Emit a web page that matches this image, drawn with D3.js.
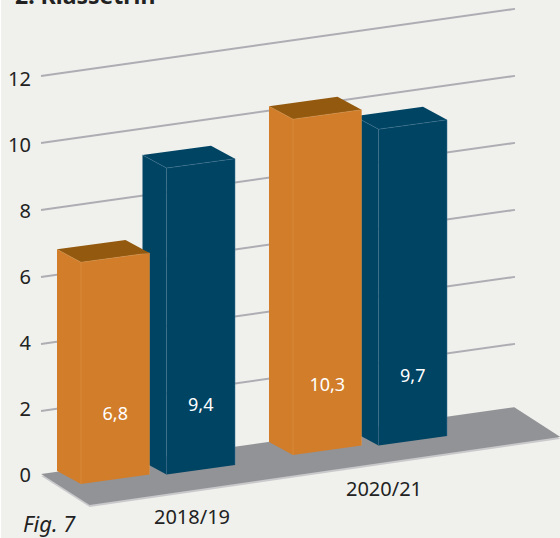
<!DOCTYPE html>
<html>
<head>
<meta charset="utf-8">
<script src="https://cdn.jsdelivr.net/npm/d3@7"></script>
<style>
  html, body { margin: 0; padding: 0; background: #fff; }
  svg { display: block; }
  text { font-family: "Noto Sans", sans-serif; fill: #222; }
</style>
</head>
<body>
<script>
const title = '2. Klassetrin';
const figureLabel = 'Fig. 7';
const categories = ['2018/19', '2020/21'];
const seriesNames = ['orange', 'blue'];
const orangeValues = [6.8, 10.3];
const blueValues = [9.4, 9.7];
const gridTicks = [2, 4, 6, 8, 10, 12];
const axisTicks = [0, 2, 4, 6, 8, 10, 12];

const width = 560, height = 538;

const svg = d3.select('body').append('svg')
  .attr('width', width)
  .attr('height', height);

svg.append('rect').attr('x', 1).attr('width', width).attr('height', height).attr('fill', '#f0f1ed');

const colors = {
  orange: { face: '#d27d2a', top: '#93590f', edge: '#dd9448' },
  blue: { face: '#004464', top: '#004464', edge: '#3f7390' }
};

// scales for the bars: groups along the floor, height in bar units
const xGroup = d3.scaleBand().domain(categories).range([81, 447]).paddingInner(58 / 212);
const xBar = d3.scaleBand().domain(seriesNames).range([0, xGroup.bandwidth()]).paddingInner(17 / 85.5);
const yBar = d3.scaleLinear().domain([0, 1]).range([0, 32.6]);

// the wall is further back but drawn with a bigger unit, as in the original
const yWall = d3.scaleLinear().domain([0, 12]).range([478, 76]);
const yAxisLabels = d3.scaleLinear().domain([0, 12]).range([474, 78]);
const xCategory = d3.scalePoint().domain(categories).range([192, 384]);

const slope = -0.137;
const depthX = 24, depthY = 13;

// fake 3d: x along the floor, depth towards the wall, value upwards
function project(x, depth, value) {
  return [
    x - depthX * depth,
    484 + slope * (x - 81) - depthY * depth - yBar(value)
  ];
}

// floor plate, with a light edge under it
const floorCorners = [[64, 0.95], [57, -1.36], [533, -1.14], [540, 1.07]];
const floorPath = d3.line()(floorCorners.map(c => project(c[0], c[1], 0))) + 'Z';
svg.append('path').attr('d', floorPath).attr('fill', '#c9c9cc').attr('transform', 'translate(0,2)');

// grid lines
const wallLine = d3.line();
const wallSlope = -0.1416;
svg.append('g').selectAll('path')
  .data(gridTicks)
  .join('path')
  .attr('d', d => wallLine([[41, yWall(d)], [515, yWall(d) + wallSlope * 474]]))
  .attr('stroke', '#aeadb3')
  .attr('stroke-width', 2)
  .attr('fill', 'none');

svg.append('path').attr('d', floorPath).attr('fill', '#929396');

// bars, blue first because orange stands in front of it
const bars = [];
categories.forEach((c, i) => {
  bars.push({ category: c, series: 'blue', value: blueValues[i] });
});
categories.forEach((c, i) => {
  bars.push({ category: c, series: 'orange', value: orangeValues[i] });
});

const gBars = svg.append('g').selectAll('g')
  .data(bars)
  .join('g')
  .attr('transform', d => `translate(0,${d.series === 'blue' ? 2.2 : 0})`);

const poly = pts => d3.line()(pts) + 'Z';
const barLeft = d => xGroup(d.category) + xBar(d.series);

// side face
gBars.append('path')
  .attr('d', d => {
    const x = barLeft(d);
    return poly([project(x, 0, 0), project(x, 1, 0), project(x, 1, d.value), project(x, 0, d.value)]);
  })
  .attr('fill', d => colors[d.series].face);

// front face
gBars.append('path')
  .attr('d', d => {
    const x = barLeft(d), w = xBar.bandwidth();
    return poly([project(x, 0, 0), project(x + w, 0, 0), project(x + w, 0, d.value), project(x, 0, d.value)]);
  })
  .attr('fill', d => colors[d.series].face);

// top face
gBars.append('path')
  .attr('d', d => {
    const x = barLeft(d), w = xBar.bandwidth();
    return poly([project(x, 0, d.value), project(x + w, 0, d.value), project(x + w, 1, d.value), project(x, 1, d.value)]);
  })
  .attr('fill', d => colors[d.series].top);

// thin light edges of the boxes
gBars.append('path')
  .attr('d', d => {
    const x = barLeft(d), w = xBar.bandwidth();
    return d3.line()([project(x, 1, d.value), project(x, 0, d.value), project(x, 0, 0)]) +
      d3.line()([project(x, 0, d.value), project(x + w, 0, d.value), project(x + w, 0, 0)]);
  })
  .attr('fill', 'none')
  .attr('stroke', d => colors[d.series].edge)
  .attr('stroke-width', 0.5);

// value labels sit two units above the floor
gBars.append('text')
  .attr('x', d => project(barLeft(d) + xBar.bandwidth() / 2, 0, 2)[0])
  .attr('y', d => project(barLeft(d) + xBar.bandwidth() / 2, 0, 2)[1])
  .attr('dy', 6)
  .attr('text-anchor', 'middle')
  .attr('font-size', 18)
  .style('fill', '#fff')
  .text(d => String(d.value).replace('.', ','));

// y axis, only the labels
const yAxis = d3.axisLeft(yAxisLabels).tickValues(axisTicks).tickSize(0).tickPadding(0).tickFormat(d3.format('d'));
const gAxis = svg.append('g').attr('transform', 'translate(31,0)').call(yAxis);
gAxis.select('.domain').remove();
gAxis.selectAll('text')
  .attr('font-size', 20)
  .attr('dy', 7);
gAxis.attr('font-family', null);

// category labels
svg.append('g').selectAll('text')
  .data(categories)
  .join('text')
  .attr('x', d => xCategory(d))
  .attr('y', (d, i) => 524 + i * -28)
  .attr('text-anchor', 'middle')
  .attr('font-size', 20)
  .text(d => d);

svg.append('text')
  .attr('x', 23)
  .attr('y', 532)
  .attr('font-size', 22)
  .attr('font-style', 'italic')
  .text(figureLabel);

svg.append('text')
  .attr('x', 15)
  .attr('y', 4)
  .attr('font-size', 23)
  .attr('font-weight', 700)
  .text(title);
</script>
</body>
</html>
